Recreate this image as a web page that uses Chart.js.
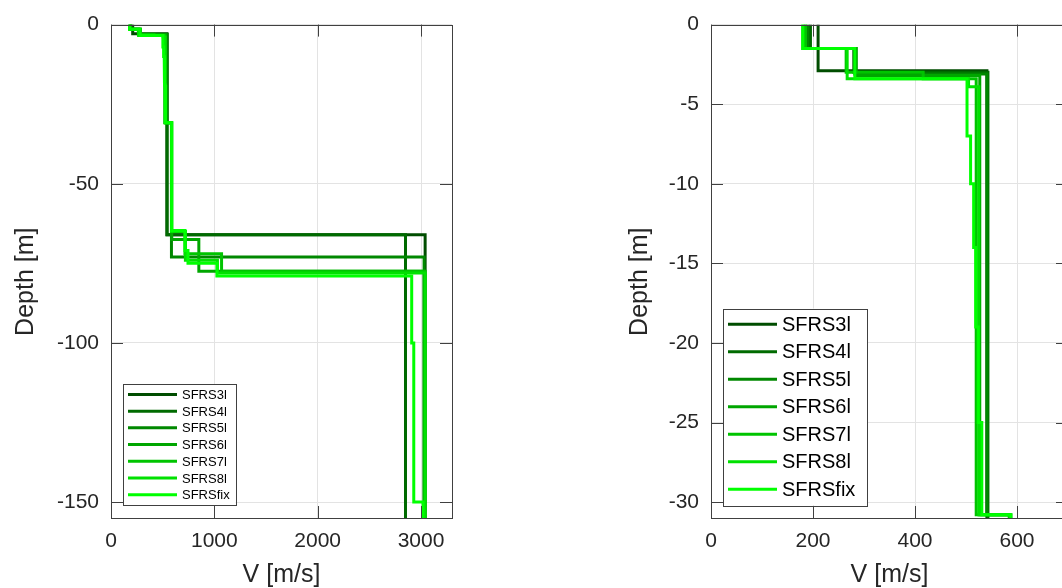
<!DOCTYPE html>
<html>
<head>
<meta charset="utf-8">
<script src="https://cdn.jsdelivr.net/npm/chart.js@4.4.0/dist/chart.umd.min.js"></script>
<style>
  html, body { margin: 0; padding: 0; background: #fff; overflow: hidden; width: 1062px; height: 588px; }
  canvas { position: absolute; top: 0; }
  #left { left: 0; }
  #right { left: 600px; }
</style>
</head>
<body>
<canvas id="left" width="470" height="588"></canvas>
<canvas id="right" width="490" height="588"></canvas>
<script>
const seriesNames = ['SFRS3l', 'SFRS4l', 'SFRS5l', 'SFRS6l', 'SFRS7l', 'SFRS8l', 'SFRSfix'];
const seriesColors = ['#004d00', '#006a00', '#008800', '#00a600', '#00c400', '#00e100', '#00ff00'];

// layer velocities (m/s) and layer bottom depths (m), one pair per model
const sfrs3lV = [210, 541, 3040];
const sfrs3lZ = [2.9, 66, 155];
const sfrs4lV = [195, 280, 543, 2850];
const sfrs4lZ = [1.5, 3.0, 66, 155];
const sfrs5lV = [190, 282, 541, 585, 3030];
const sfrs5lZ = [1.5, 3.1, 30.8, 73, 155];
const sfrs6lV = [185, 285, 527, 588, 850, 3030];
const sfrs6lZ = [1.5, 3.2, 30.8, 67.5, 77.5, 155];
const sfrs7lV = [185, 265, 416, 520, 585, 716, 1070, 3040];
const sfrs7lZ = [1.5, 3.0, 3.4, 30.8, 65, 72, 77.5, 155];
const sfrs8lV = [180, 267, 505, 525, 586, 720, 1030, 3040];
const sfrs8lZ = [1.5, 3.4, 3.9, 30.8, 65, 74, 78, 155];
const sfrsfixV = [180, 282, 502, 509, 515, 519, 524, 531, 588, 716, 745, 1025, 2910, 2930, 3020];
const sfrsfixZ = [1.5, 3.4, 7, 10, 14, 19, 25, 30.8, 64.7, 71, 75, 79, 100, 150, 155];

const leftXTicks = [0, 1000, 2000, 3000];
const leftYTicks = [0, -50, -100, -150];
const rightXTicks = [0, 200, 400, 600];
const rightYTicks = [0, -5, -10, -15, -20, -25, -30];

const models = [
    [sfrs3lV, sfrs3lZ], [sfrs4lV, sfrs4lZ], [sfrs5lV, sfrs5lZ], [sfrs6lV, sfrs6lZ],
    [sfrs7lV, sfrs7lZ], [sfrs8lV, sfrs8lZ], [sfrsfixV, sfrsfixZ]
];

// turn a layered model into the staircase profile
function stepProfile(vel, bottoms) {
    const pts = [];
    let top = 0;
    vel.forEach((v, i) => {
        pts.push({x: v, y: -top});
        pts.push({x: v, y: -bottoms[i]});
        top = bottoms[i];
    });
    return pts;
}

function makeDatasets() {
    return models.map((m, i) => ({
        label: seriesNames[i],
        data: stepProfile(m[0], m[1]),
        borderColor: seriesColors[i],
        backgroundColor: seriesColors[i],
        borderWidth: 3,
        showLine: true,
        pointRadius: 0,
        tension: 0,
        order: models.length - i
    }));
}

const axisColor = '#404040';
const textColor = '#262626';
const gridColor = '#e3e3e3';
const family = '"Liberation Sans", Arial, sans-serif';

const frame = {
    id: 'frame',
    afterDatasetsDraw(chart) {
        const {ctx, chartArea: a, scales} = chart;
        ctx.save();
        ctx.strokeStyle = axisColor;
        ctx.lineWidth = 1;
        ctx.beginPath();
        scales.x.ticks.forEach(t => {
            const px = Math.round(scales.x.getPixelForValue(t.value)) + 0.5;
            ctx.moveTo(px, a.bottom); ctx.lineTo(px, a.bottom - 12);
            ctx.moveTo(px, a.top); ctx.lineTo(px, a.top + 12);
        });
        scales.y.ticks.forEach(t => {
            const py = Math.round(scales.y.getPixelForValue(t.value)) + 0.5;
            ctx.moveTo(a.left, py); ctx.lineTo(a.left + 12, py);
            ctx.moveTo(a.right, py); ctx.lineTo(a.right - 12, py);
        });
        ctx.stroke();
        ctx.strokeRect(Math.round(a.left) + 0.5, Math.round(a.top) + 0.5,
            Math.round(a.right - a.left), Math.round(a.bottom - a.top));
        ctx.restore();
    }
};

const boxLegend = {
    id: 'boxLegend',
    afterDraw(chart, args, opts) {
        const {ctx, chartArea: a} = chart;
        const sets = chart.data.datasets;
        ctx.save();
        ctx.font = opts.fontSize + 'px ' + family;
        const tw = Math.max(...sets.map(d => ctx.measureText(d.label).width));
        const w = 59 + tw + opts.padRight;
        const h = sets.length * opts.rowH + 4;
        const x0 = a.left + 12;
        const y0 = a.bottom - 13 - h;
        ctx.fillStyle = '#fff';
        ctx.fillRect(x0, y0, w, h);
        ctx.strokeStyle = axisColor;
        ctx.lineWidth = 1;
        ctx.strokeRect(Math.round(x0) + 0.5, Math.round(y0) + 0.5, Math.round(w), Math.round(h));
        ctx.textBaseline = 'middle';
        ctx.textAlign = 'left';
        sets.forEach((d, i) => {
            const cy = y0 + 2 + opts.rowH * (i + 0.5);
            ctx.strokeStyle = d.borderColor;
            ctx.lineWidth = 3;
            ctx.beginPath();
            ctx.moveTo(x0 + 5, cy);
            ctx.lineTo(x0 + 54, cy);
            ctx.stroke();
            ctx.fillStyle = '#000';
            ctx.fillText(d.label, x0 + 59, cy + 1);
        });
        ctx.restore();
    }
};

function makeChart(id, cfg) {
    const font = {family, size: 21};
    const titleFont = {family, size: 25, lineHeight: 1};
    return new Chart(document.getElementById(id), {
        type: 'scatter',
        data: {datasets: makeDatasets()},
        options: {
            responsive: false,
            animation: false,
            devicePixelRatio: 1,
            layout: {padding: {top: 23, right: cfg.padRight, left: 0, bottom: 0}},
            plugins: {
                legend: {display: false},
                tooltip: {enabled: false},
                boxLegend: cfg.legend
            },
            scales: {
                x: {
                    type: 'linear',
                    min: 0,
                    max: cfg.xMax,
                    afterBuildTicks: s => { s.ticks = cfg.xTicks.map(v => ({value: v})); },
                    afterFit: s => { s.height = 70; },
                    grid: {color: gridColor, drawTicks: false},
                    border: {display: false},
                    ticks: {
                        color: textColor, font, padding: 11,
                        maxRotation: 0, minRotation: 0, autoSkip: false,
                        callback: v => String(v)
                    },
                    title: {
                        display: true, text: 'V [m/s]', color: textColor,
                        font: titleFont,
                        padding: {top: 0, bottom: 0}
                    }
                },
                y: {
                    type: 'linear',
                    min: cfg.yMin,
                    max: 0,
                    afterBuildTicks: s => { s.ticks = cfg.yTicks.map(v => ({value: v})); },
                    afterFit: s => { s.width = 111; },
                    grid: {color: gridColor, drawTicks: false},
                    border: {display: false},
                    ticks: {color: textColor, font, padding: 12, autoSkip: false, callback: v => String(v)},
                    title: {
                        display: true, text: 'Depth [m]   ', color: textColor,
                        font: titleFont,
                        padding: {top: cfg.titlePad, bottom: 0}
                    }
                }
            }
        },
        plugins: [frame, boxLegend]
    });
}

makeChart('left', {
    xMax: 3300, yMin: -155, xTicks: leftXTicks, yTicks: leftYTicks,
    padRight: 18, titlePad: 13.5,
    legend: {fontSize: 13, rowH: 16.7, padRight: 6}
});
makeChart('right', {
    xMax: 700, yMin: -31, xTicks: rightXTicks, yTicks: rightYTicks,
    padRight: 22, titlePad: 27.5,
    legend: {fontSize: 20, rowH: 27.5, padRight: 12}
});
</script>
</body>
</html>
